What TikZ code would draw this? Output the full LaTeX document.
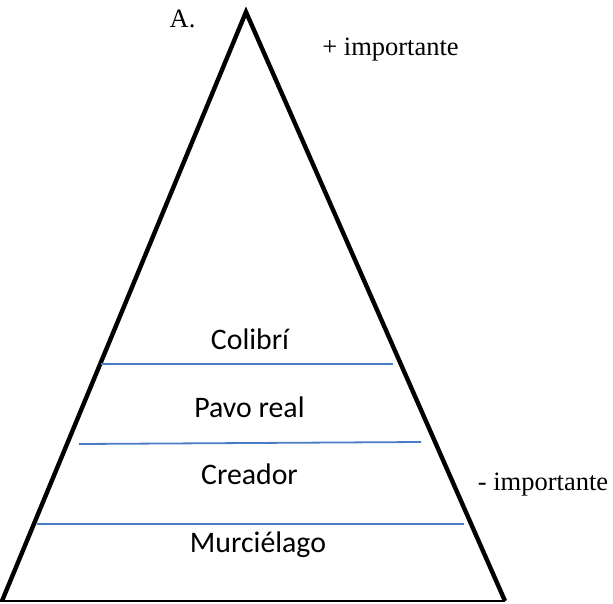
\documentclass[tikz,border=0pt]{standalone}
\usepackage{fontspec}
\setmainfont{Liberation Serif}
\newfontfamily\labelfont{Carlito}
\usepackage{tikz}
\usetikzlibrary{positioning}
\usepackage{xcolor}
\definecolor{ink}{HTML}{000000}
\definecolor{sepblue}{HTML}{4A7CC6}
\tikzset{pyramidside/.style={draw=ink,line width=4.4pt,line join=miter,line cap=butt},pyramidbase/.style={draw=ink,line width=1.2pt},sepline/.style={draw=sepblue,line width=1.8pt},levellabel/.style={font=\fontsize{29.8}{34}\selectfont\labelfont,anchor=base,inner sep=0pt},sidenote/.style={font=\fontsize{26.5}{30}\selectfont,anchor=base,inner sep=0pt}}

\begin{document}
\begin{tikzpicture}[x=1pt,y=-1pt]
\useasboundingbox (0,0) rectangle (613,603);
\coordinate (apex) at (246,12);
\coordinate (baseL) at (2,601);
\coordinate (baseR) at (505,601);
\draw[pyramidside] (baseL)--(apex)--(baseR);
\draw[pyramidbase] (0,601)--(baseR);
% separadores
\draw[sepline] (101,364)--(393,364);
\draw[sepline] (79,444)--(421,442);
\draw[sepline] (37,524)--(464,524);
% niveles
\node[levellabel] (colibri) at (250,349) {Colibrí};
\node[levellabel] (pavo) at (249.5,417) {Pavo real};
\node[levellabel] (creador) at (249.5,484) {Creador};
\node[levellabel] (murcielago) at (258,552) {Murciélago};
% notas
\node[sidenote] (letra) at (182.5,27) {A.};
\node[sidenote] (mas) at (390.5,55) {+ importante};
\node[sidenote] (menos) at (543,490) {- importante};
\end{tikzpicture}
\end{document}
